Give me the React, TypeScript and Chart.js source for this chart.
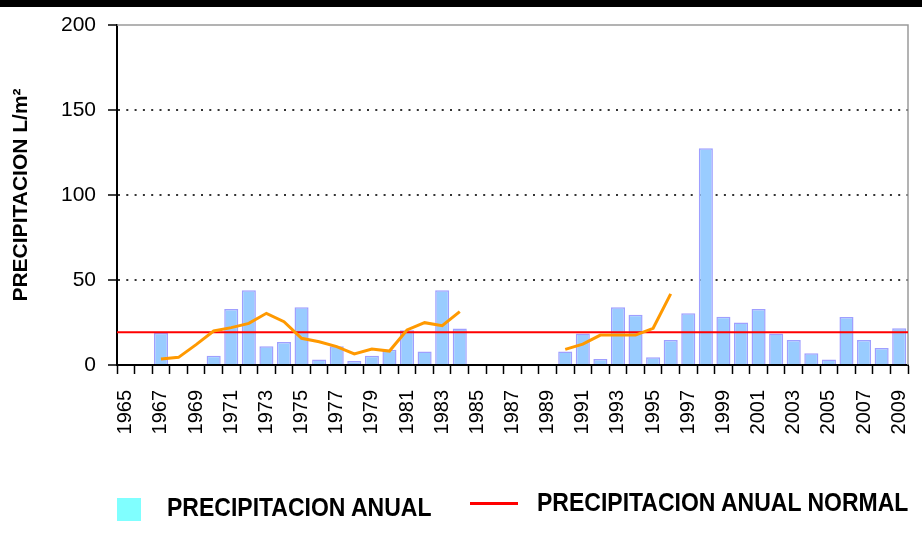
import React, { useEffect, useRef } from 'react';
import { Chart, registerables } from 'chart.js';

Chart.register(...registerables);

const years = [
  '1965', '1966', '1967', '1968', '1969', '1970', '1971', '1972', '1973', '1974',
  '1975', '1976', '1977', '1978', '1979', '1980', '1981', '1982', '1983', '1984',
  '1985', '1986', '1987', '1988', '1989', '1990', '1991', '1992', '1993', '1994',
  '1995', '1996', '1997', '1998', '1999', '2000', '2001', '2002', '2003', '2004',
  '2005', '2006', '2007', '2008', '2009',
];

// Annual precipitation (L/m²) per year
const precipitacionAnual: (number | null)[] = [
  null, null, 19, null, null, 5.5, 33, 44, 11, 13.5,
  34, 3.3, 11, 2.4, 5.5, 9, 20.5, 8, 44, 21.5,
  null, null, null, null, null, 8, 18.5, 3.5, 34, 29.5,
  4.5, 14.7, 30.5, 127.5, 28.4, 25, 33, 18.5, 14.7, 6.9,
  3.3, 28.2, 14.7, 10, 21.6,
];

// Orange trend line (moving average)
const tendencia: (number | null)[] = [
  null, null, 3.5, 4.5, 12, 20, 22, 24.5, 30.4, 25.5,
  15.7, 13.7, 10.8, 6.5, 9.4, 8.2, 20.6, 24.9, 23.1, 31.4,
  null, null, null, null, null, 9.2, 12.3, 17.6, 17.6, 17.6,
  21.6, 41.8, null, null, null, null, null, null, null, null,
  null, null, null, null, null,
];

const precipitacionNormal = 19.2;

const yMin = 0;
const yMax = 200;
const yStep = 50;

const legendAnual = 'PRECIPITACION ANUAL';
const legendNormal = 'PRECIPITACION ANUAL NORMAL';
const yTitle = 'PRECIPITACION L/m²';

const FONT = "'Liberation Sans', Arial, sans-serif";

export default function App() {
  const canvasRef = useRef<HTMLCanvasElement>(null);

  useEffect(() => {
    if (!canvasRef.current) return;

    const framePlugin = {
      id: 'frameLines',
      beforeDatasetsDraw(chart: any) {
        const { ctx, chartArea: a } = chart;
        ctx.save();
        ctx.strokeStyle = '#9a9a9a';
        ctx.lineWidth = 1.5;
        ctx.beginPath();
        ctx.moveTo(a.left, a.top);
        ctx.lineTo(a.right, a.top);
        ctx.lineTo(a.right, a.bottom);
        ctx.stroke();
        ctx.restore();
      },
    };

    // Horizontal "normal" precipitation line across the full plot width
    const normalLinePlugin = {
      id: 'normalLine',
      afterDatasetDraw(chart: any, args: any) {
        if (args.index !== 1) return; // draw right after the bars, before the trend line
        const { ctx, chartArea: a, scales } = chart;
        const y = scales.y.getPixelForValue(precipitacionNormal);
        ctx.save();
        ctx.strokeStyle = '#FF0000';
        ctx.lineWidth = 2;
        ctx.beginPath();
        ctx.moveTo(a.left, y);
        ctx.lineTo(a.right, y);
        ctx.stroke();
        ctx.restore();
      },
    };

    const chart = new Chart(canvasRef.current, {
      type: 'bar',
      data: {
        labels: years,
        datasets: [
          {
            type: 'line',
            label: 'Tendencia',
            data: tendencia,
            borderColor: '#FF9900',
            borderWidth: 3,
            pointRadius: 0,
            spanGaps: false,
            tension: 0,
            order: 0,
          } as any,
          {
            type: 'bar',
            label: legendAnual,
            data: precipitacionAnual,
            backgroundColor: '#99CCFF',
            borderColor: '#9F9FFF',
            borderWidth: 1.5,
            barPercentage: 0.8,
            categoryPercentage: 1,
            order: 2,
          } as any,
        ],
      },
      options: {
        responsive: false,
        maintainAspectRatio: false,
        animation: false,
        devicePixelRatio: 1,
        layout: { padding: { top: 25, right: 14, left: 0, bottom: 0 } },
        plugins: {
          legend: { display: false },
          tooltip: { enabled: false },
        },
        scales: {
          x: {
            type: 'category',
            offset: true,
            grid: {
              offset: true,
              drawOnChartArea: false,
              drawTicks: true,
              tickLength: 9,
              tickColor: '#000',
              tickWidth: 1.5,
            },
            border: { color: '#000', width: 2 },
            ticks: {
              autoSkip: false,
              maxRotation: 90,
              minRotation: 90,
              padding: 16,
              color: '#000',
              font: { family: FONT, size: 20 },
              callback: (_v: any, i: number) => (i % 2 === 0 ? years[i] : ''),
            },
            afterFit: (s: any) => {
              s.height = 176;
              s.paddingRight = 0;
              s.paddingLeft = 0;
            },
          } as any,
          y: {
            min: yMin,
            max: yMax,
            ticks: {
              stepSize: yStep,
              padding: 12,
              color: '#000',
              font: { family: FONT, size: 21 },
            },
            grid: {
              color: (ctx: any) =>
                ctx.tick && (ctx.tick.value === yMin || ctx.tick.value === yMax)
                  ? 'rgba(0,0,0,0)'
                  : '#333',
              lineWidth: 2,
              tickColor: '#000',
              tickLength: 9,
              tickWidth: 1.5,
              tickBorderDash: [],
            },
            border: { color: '#000', width: 2, dash: [2, 6.3] },
            title: {
              display: true,
              text: yTitle,
              color: '#000',
              font: { family: FONT, size: 21, weight: 'bold' },
              padding: { top: 9, bottom: 0 },
            },
            afterFit: (s: any) => {
              s.width = 117;
            },
          } as any,
        },
      },
      plugins: [framePlugin, normalLinePlugin],
    });

    return () => chart.destroy();
  }, []);

  const legendText: React.CSSProperties = {
    position: 'absolute',
    fontFamily: FONT,
    fontWeight: 'bold',
    fontSize: '25px',
    lineHeight: '25px',
    color: '#000',
    whiteSpace: 'nowrap',
    transform: 'scaleX(0.92)',
    transformOrigin: 'left top',
  };

  return (
    <div
      style={{
        position: 'absolute',
        left: 0,
        top: 0,
        width: 922,
        height: 541,
        background: '#fff',
        overflow: 'hidden',
      }}
    >
      <canvas
        ref={canvasRef}
        width={922}
        height={541}
        style={{ position: 'absolute', left: 0, top: 0, width: 922, height: 541, display: 'block' }}
      />
      <div style={{ position: 'absolute', left: 0, top: 0, width: 922, height: 7, background: '#000' }} />
      <div style={{ position: 'absolute', left: 117, top: 498, width: 24, height: 23, background: '#80FFFF' }} />
      <div style={{ ...legendText, left: 167, top: 495 }}>{legendAnual}</div>
      <div style={{ position: 'absolute', left: 470, top: 502, width: 48, height: 3, background: '#FF0000' }} />
      <div style={{ ...legendText, left: 537, top: 490 }}>{legendNormal}</div>
    </div>
  );
}
